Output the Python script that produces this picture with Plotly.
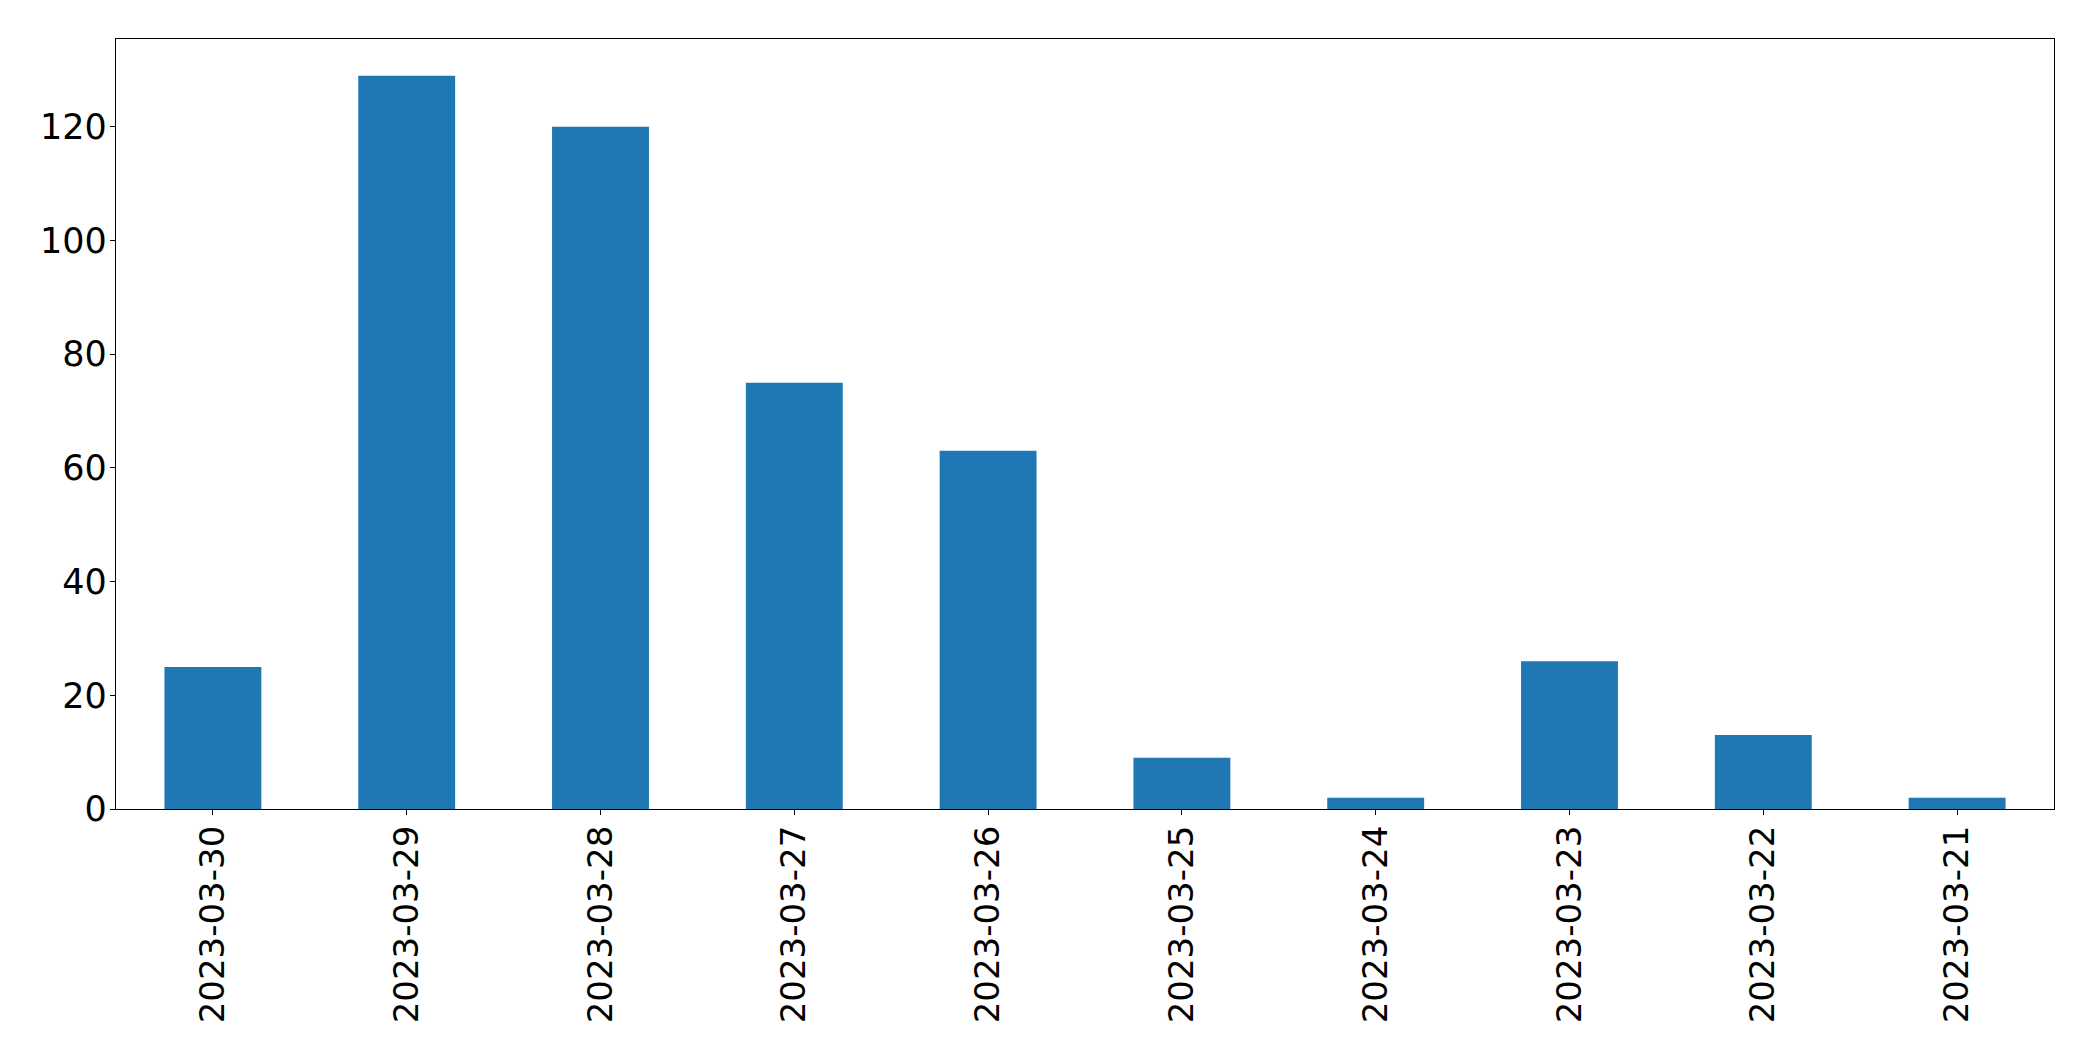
import plotly.graph_objects as go

dates = ["2023-03-30", "2023-03-29", "2023-03-28", "2023-03-27", "2023-03-26",
         "2023-03-25", "2023-03-24", "2023-03-23", "2023-03-22", "2023-03-21"]
counts = [25, 129, 120, 75, 63, 9, 2, 26, 13, 2]
y_ticks = [0, 20, 40, 60, 80, 100, 120]

fig = go.Figure(go.Bar(x=dates, y=counts, width=0.5, marker_color="#1f77b4",
                       marker_line_width=0))

axis_common = dict(showline=True, linecolor="black", linewidth=1.3, mirror=True,
                   ticks="outside", ticklen=5, tickwidth=1.3, tickcolor="black",
                   showgrid=False, zeroline=False)

fig.update_layout(
    width=2093, height=1061, autosize=False,
    margin=dict(l=116, r=39, t=39, b=252),
    plot_bgcolor="white", paper_bgcolor="white",
    showlegend=False,
    xaxis=dict(type="category", range=[-0.5, 9.5], tickangle=-90,
               ticklabelstandoff=-3,
               tickfont=dict(family="DejaVu Sans", size=34, color="black"),
               **axis_common),
    yaxis=dict(range=[0, 135.45], tickvals=y_ticks, ticklabelstandoff=-4,
               tickfont=dict(family="DejaVu Sans", size=35, color="black"),
               **axis_common),
)

fig.write_html("out.html", config={"displayModeBar": False},
               post_script="document.body.style.margin='0';")
